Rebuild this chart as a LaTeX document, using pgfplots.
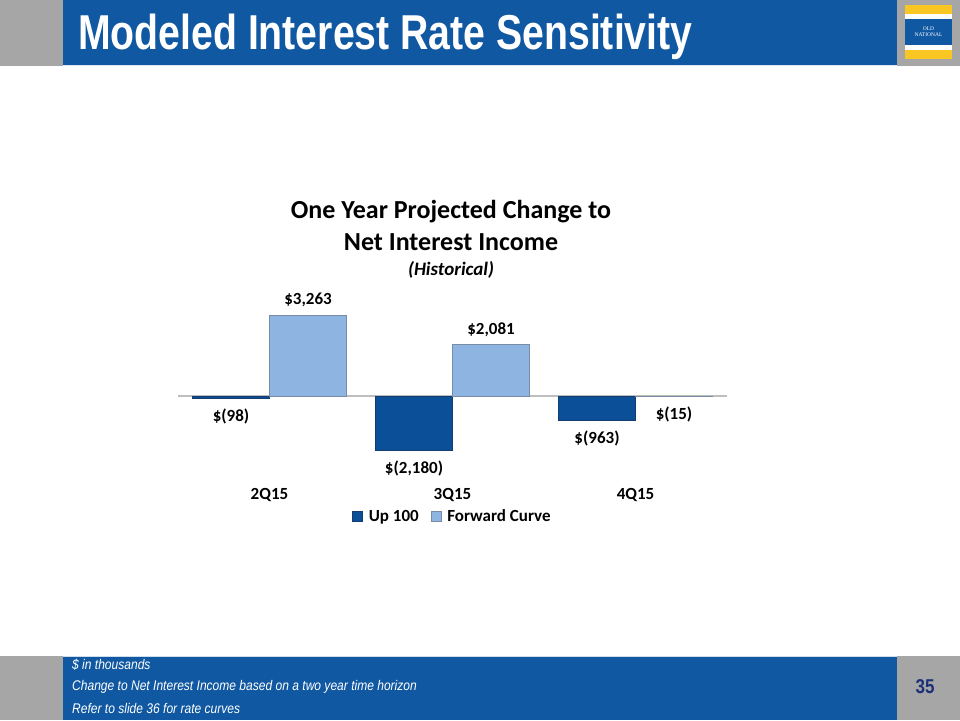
\documentclass[border=0pt]{standalone}
\usepackage{pgfplots}
\pgfplotsset{compat=1.18}
\usepackage{fontspec}
\usepackage{graphicx}
\setmainfont{Carlito}
\newfontfamily\arial{Liberation Sans}
\newfontfamily\serifl{Liberation Serif}
\definecolor{hblue}{RGB}{16,88,162}
\definecolor{sgray}{RGB}{166,166,166}
\definecolor{lyellow}{RGB}{249,198,35}
\definecolor{upblue}{RGB}{10,79,152}
\definecolor{upedge}{RGB}{20,60,110}
\definecolor{fcblue}{RGB}{142,180,226}
\definecolor{fcedge}{RGB}{120,140,165}
\definecolor{navy}{RGB}{28,48,118}
\definecolor{zline}{RGB}{190,190,190}
\begin{document}
\begin{tikzpicture}[x=1pt,y=1pt]
\useasboundingbox (0,0) rectangle (960,720);
\fill[white] (0,0) rectangle (960,720);
% header
\fill[sgray] (0,654) rectangle (960,720);
\fill[hblue] (63,654) rectangle (897,720);
\draw[white!85!hblue, line width=1pt] (63,654) -- (897,654);
% logo
\fill[lyellow] (905,661) rectangle (952,715);
\fill[white] (905,701) rectangle (952,706);
\fill[hblue] (905,675) rectangle (952,701);
\fill[white] (905,670) rectangle (952,675);
\node[white, align=center, inner sep=0, font=\serifl\fontsize{5.5}{6}\selectfont] at (928.5,688) {OLD\\NATIONAL};
% title
\node[anchor=base west, inner sep=0, white] at (78,670) {\scalebox{0.8}[1]{\arial\bfseries\fontsize{49}{50}\selectfont Modeled Interest Rate Sensitivity}};
% footer
\fill[sgray] (0,0) rectangle (960,64);
\fill[hblue] (63,0) rectangle (897,64);
\draw[white!80!hblue, line width=1pt] (63,64) -- (897,64);
\node[anchor=west, inner sep=0, white] at (72,55) {\scalebox{0.86}[1]{\arial\itshape\fontsize{14}{15}\selectfont \$ in thousands}};
\node[anchor=west, inner sep=0, white] at (72,33) {\scalebox{0.86}[1]{\arial\itshape\fontsize{14}{15}\selectfont Change to Net Interest Income based on a two year time horizon}};
\node[anchor=west, inner sep=0, white] at (72,12) {\scalebox{0.86}[1]{\arial\itshape\fontsize{14}{15}\selectfont Refer to slide 36 for rate curves}};
\node[navy, inner sep=0] at (925,33) {\scalebox{0.85}[1]{\arial\bfseries\fontsize{20}{22}\selectfont 35}};
% chart title
\node[inner sep=0] at (451,508) {\bfseries\fontsize{26}{28}\selectfont One Year Projected Change to};
\node[inner sep=0] at (451,478) {\bfseries\fontsize{26}{28}\selectfont Net Interest Income};
\node[inner sep=0] at (451,450) {\bfseries\itshape\fontsize{19}{21}\selectfont (Historical)};
\begin{axis}[
  at={(178pt,237.2pt)}, anchor=south west,
  scale only axis, width=549pt, height=173.6pt,
  xmin=-0.5, xmax=2.5, ymin=-3500, ymax=3500,
  clip=false,
  axis line style={draw=none},
  major tick length=0pt,
  ytick=\empty,
  xtick={0,1,2}, xticklabels={2Q15,3Q15,4Q15},
  xticklabel style={font=\bfseries\fontsize{17}{19}\selectfont, yshift=-2pt},
  ybar=0pt, bar width=77pt,
  point meta=explicit symbolic,
  nodes near coords,
  visualization depends on={y \as \rawy},
  every node near coord/.append style={font=\bfseries\fontsize{17}{19}\selectfont, text=black,
    /utils/exec={\ifdim\rawy pt<0pt \gdef\myanch{north}\gdef\mysep{10.5pt}\else\gdef\myanch{south}\gdef\mysep{7.5pt}\fi},
    anchor=\myanch, inner sep=\mysep},
  every axis plot post/.append style={legend image code/.code={\draw[##1, line width=0.5pt] (0pt,-5pt) rectangle (10pt,5pt); \path (14pt,0pt);}},
  legend columns=2,
  legend style={draw=none, fill=none, at={(0.5,-0.13)}, anchor=north, font=\bfseries\fontsize{17}{19}\selectfont,
    /tikz/every even column/.append style={column sep=10pt}},
]
\draw[zline, line width=1.5pt] (axis cs:-0.5,0) -- (axis cs:2.5,0);
\addplot[fill=upblue, draw=upedge, line width=0.6pt] coordinates {(0,-98) [\$(98)] (1,-2180) [\$(2,180)] (2,-963) [\$(963)]};
\addplot[fill=fcblue, draw=fcedge, line width=0.6pt] coordinates {(0,3263) [\$3,263] (1,2081) [\$2,081] (2,-15) [\$(15)]};
\legend{Up 100, Forward Curve}
\end{axis}
\end{tikzpicture}
\end{document}
